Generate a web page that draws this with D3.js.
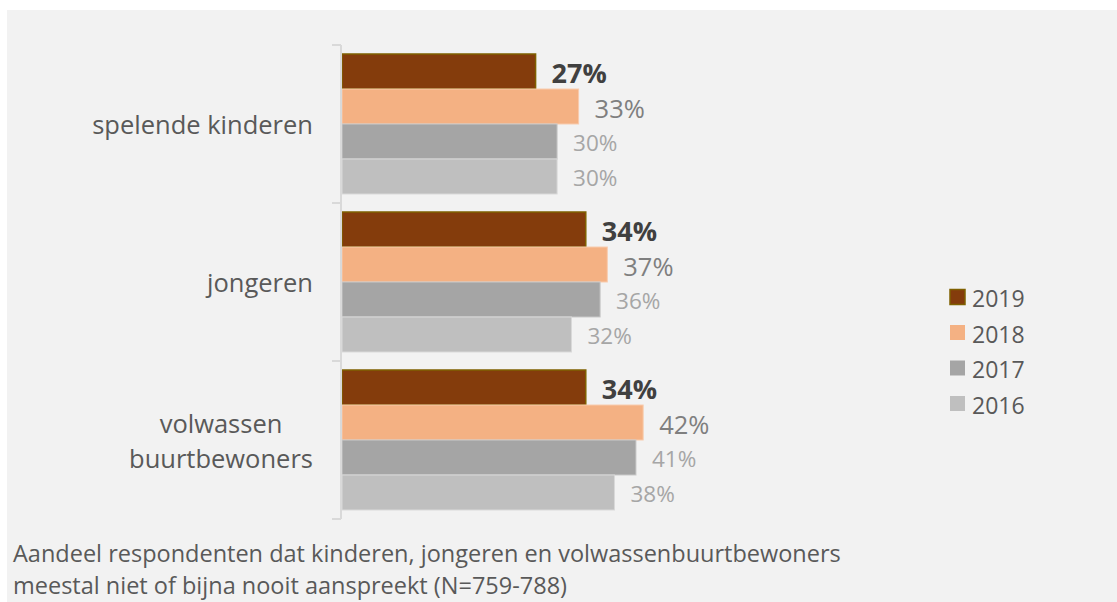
<!DOCTYPE html>
<html>
<head>
<meta charset="utf-8">
<script src="https://cdn.jsdelivr.net/npm/d3@7"></script>
<style>
  html, body { margin: 0; padding: 0; background: #ffffff; }
  svg { display: block; font-family: "Open Sans", "Noto Sans", sans-serif; }
</style>
</head>
<body>
<svg id="chart" width="1117" height="602"></svg>
<script>
// Categories (top to bottom) and yearly shares (%)
const categories = [["spelende kinderen"], ["jongeren"], ["volwassen", "buurtbewoners"]];
const years = ["2019", "2018", "2017", "2016"];
const values2019 = [27, 34, 34];
const values2018 = [33, 37, 42];
const values2017 = [30, 36, 41];
const values2016 = [30, 32, 38];
const captionLines = [
  "Aandeel respondenten dat kinderen, jongeren en volwassenbuurtbewoners",
  "meestal niet of bijna nooit aanspreekt (N=759-788)"
];

const seriesValues = [values2019, values2018, values2017, values2016];
const fills   = ["#843c0c", "#f4b183", "#a5a5a5", "#bfbfbf"];
const strokes = ["#7f6000", "#f8cbad", "#c9c9c9", "#d9d9d9"];
const labelColors = ["#404040", "#7f7f7f", "#a6a6a6", "#a6a6a6"];
const labelSizes  = [27, 25.5, 22.5, 22.5];
const labelWeights = ["bold", "normal", "normal", "normal"];

const svg = d3.select("#chart");

// panel background
svg.append("rect").attr("x", 7).attr("y", 10).attr("width", 1110).attr("height", 592).attr("fill", "#f2f2f2");

const catKeys = categories.map(c => c.join(" "));
const y = d3.scaleBand().domain(catKeys).range([45, 519]).paddingInner(0).paddingOuter(0);
const x = d3.scaleLinear().domain([0, 50]).range([342, 700.5]);
const inner = d3.scaleBand().domain(years).range([9, y.bandwidth() - 9]).padding(0);

// bars
const groups = svg.selectAll("g.cat").data(catKeys).join("g")
  .attr("class", "cat")
  .attr("transform", d => `translate(0,${y(d)})`);

years.forEach((yr, si) => {
  groups.append("rect")
    .attr("x", x(0))
    .attr("y", inner(yr))
    .attr("width", (d, ci) => x(seriesValues[si][ci]) - x(0))
    .attr("height", inner.bandwidth())
    .attr("fill", fills[si])
    .attr("stroke", strokes[si])
    .attr("stroke-width", si === 0 ? 1.5 : 1);

  groups.append("text")
    .attr("x", (d, ci) => x(seriesValues[si][ci]) + 16)
    .attr("y", inner(yr) + inner.bandwidth() / 2 + 1)
    .attr("dominant-baseline", "central")
    .attr("font-size", labelSizes[si])
    .attr("font-weight", labelWeights[si])
    .attr("fill", labelColors[si])
    .text((d, ci) => seriesValues[si][ci] + "%");
});

// category axis
const axis = svg.append("g").attr("transform", `translate(341,0)`)
  .call(d3.axisLeft(y).tickValues([]).tickSizeOuter(0));
axis.select(".domain").remove();
const boundaries = catKeys.map(k => y(k)).concat([y.range()[1]]);
axis.append("line").attr("x1", 0).attr("x2", 0).attr("y1", 45).attr("y2", 519)
  .attr("stroke", "#d9d9d9").attr("stroke-width", 2);
axis.selectAll("line.tk").data(boundaries).join("line").attr("class", "tk")
  .attr("x1", -9).attr("x2", 0).attr("y1", d => d).attr("y2", d => d)
  .attr("stroke", "#d9d9d9").attr("stroke-width", 2);

// category labels: right-aligned block, multi-line centered within block
const lineH = 35;
categories.forEach((lines, ci) => {
  const cy = y(catKeys[ci]) + y.bandwidth() / 2;
  const t = svg.append("text")
    .attr("font-size", 25.5)
    .attr("fill", "#595959")
    .attr("text-anchor", "middle");
  lines.forEach((ln, li) => {
    t.append("tspan").attr("x", 0)
      .attr("y", cy + (li - (lines.length - 1) / 2) * lineH)
      .attr("dominant-baseline", "central")
      .text(ln);
  });
  const w = d3.max(t.selectAll("tspan").nodes(), n => n.getComputedTextLength());
  t.selectAll("tspan").attr("x", 313 - w / 2);
});

// legend
const legend = svg.append("g").attr("transform", "translate(950,297)");
years.forEach((yr, i) => {
  const g = legend.append("g").attr("transform", `translate(0,${i * 35.5})`);
  g.append("rect").attr("x", 0).attr("y", -7.5).attr("width", 15).attr("height", 15)
    .attr("fill", fills[i]).attr("stroke", i === 0 ? strokes[0] : "none").attr("stroke-width", 1.5);
  g.append("text").attr("x", 22).attr("y", 1).attr("dominant-baseline", "central")
    .attr("font-size", 23).attr("fill", "#595959").text(yr);
});

// caption
svg.append("g").selectAll("text").data(captionLines).join("text")
  .attr("x", 13)
  .attr("y", (d, i) => 562 + i * 32)
  .attr("font-size", 23.5)
  .attr("fill", "#595959")
  .text(d => d);
</script>
</body>
</html>
